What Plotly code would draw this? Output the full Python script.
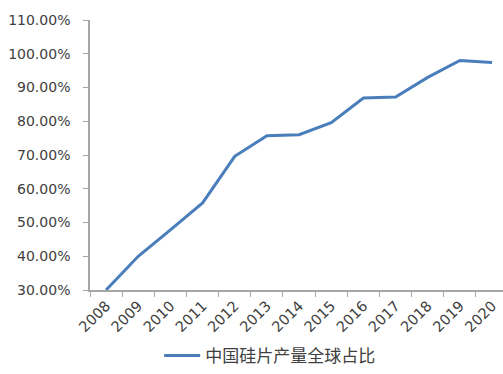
import plotly.graph_objects as go

years = ["2008", "2009", "2010", "2011", "2012", "2013", "2014",
         "2015", "2016", "2017", "2018", "2019", "2020"]
share = [0.300, 0.400, 0.478, 0.558, 0.696, 0.757, 0.760,
         0.796, 0.869, 0.872, 0.930, 0.980, 0.974]
series_name = "中国硅片产量全球占比"
y_ticks = [0.3, 0.4, 0.5, 0.6, 0.7, 0.8, 0.9, 1.0, 1.1]

fig = go.Figure()
fig.add_trace(go.Scatter(
    x=years, y=share, mode="lines", name=series_name,
    line=dict(color="#4A7EBB", width=3),
    cliponaxis=True,
))

axis_color = "#A6A6A6"
fig.update_layout(
    width=503, height=374,
    margin=dict(l=90, r=0, t=20, b=81),
    paper_bgcolor="white", plot_bgcolor="white",
    font=dict(family="DejaVu Sans", color="#404040", size=13.5),
    showlegend=True,
    legend=dict(
        orientation="h", x=0.435, xanchor="center", y=-0.245, yanchor="middle",
        font=dict(family="Noto Sans CJK SC", size=17, color="#404040"),
        itemwidth=36,
    ),
    xaxis=dict(
        type="category", range=[-0.5, 12.34],
        showline=True, linecolor=axis_color, linewidth=1.5,
        ticks="outside", tickson="boundaries", ticklen=5, tickcolor=axis_color,
        tickangle=-45, showgrid=False, tickfont=dict(size=14.5),
    ),
    yaxis=dict(
        range=[0.3, 1.1], tickvals=y_ticks, tickformat=".2%",
        showline=True, linecolor=axis_color, linewidth=1.5,
        ticks="outside", ticklen=5, tickcolor=axis_color,
        showgrid=False, zeroline=False, ticklabelstandoff=10,
        tickfont=dict(size=14),
    ),
)

fig.write_html("out.html")
